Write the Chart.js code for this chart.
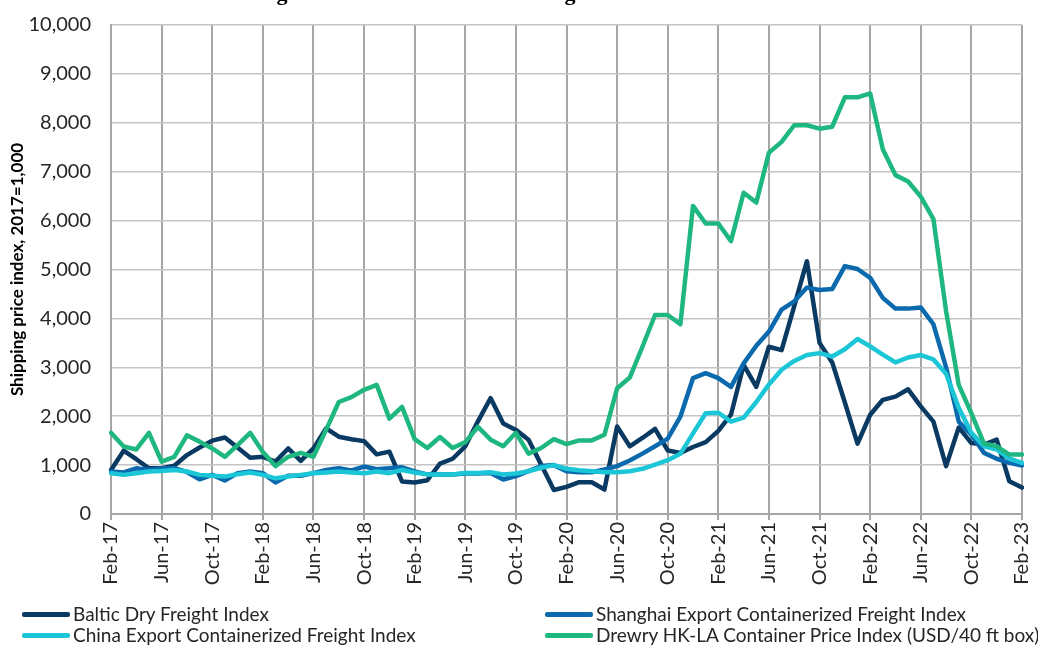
<!DOCTYPE html>
<html>
<head>
<meta charset="utf-8">
<script src="https://cdn.jsdelivr.net/npm/chart.js@4.4.1/dist/chart.umd.min.js"></script>
<style>
  html, body { margin: 0; padding: 0; background: #ffffff; }
  #wrap { position: relative; width: 1038px; height: 646px; overflow: hidden; }
  #c { position: absolute; left: 0; top: 0; }
  .leg { position: absolute; font-family: Lato, "Open Sans", sans-serif; font-size: 19px; color: #262626; white-space: nowrap; line-height: 20px; }
  .leg span.sw { position: absolute; left: 0; top: 8px; width: 48px; height: 5px; border-radius: 2px; }
  .leg span.tx { position: absolute; left: 51px; top: 0; }
</style>
</head>
<body>
<div id="wrap">
  <canvas id="c" width="1038" height="646"></canvas>
  <div id="legend"></div>
</div>
<script>
const months = [
  "Feb-17","Mar-17","Apr-17","May-17","Jun-17","Jul-17","Aug-17","Sep-17","Oct-17","Nov-17","Dec-17","Jan-18",
  "Feb-18","Mar-18","Apr-18","May-18","Jun-18","Jul-18","Aug-18","Sep-18","Oct-18","Nov-18","Dec-18","Jan-19",
  "Feb-19","Mar-19","Apr-19","May-19","Jun-19","Jul-19","Aug-19","Sep-19","Oct-19","Nov-19","Dec-19","Jan-20",
  "Feb-20","Mar-20","Apr-20","May-20","Jun-20","Jul-20","Aug-20","Sep-20","Oct-20","Nov-20","Dec-20","Jan-21",
  "Feb-21","Mar-21","Apr-21","May-21","Jun-21","Jul-21","Aug-21","Sep-21","Oct-21","Nov-21","Dec-21","Jan-22",
  "Feb-22","Mar-22","Apr-22","May-22","Jun-22","Jul-22","Aug-22","Sep-22","Oct-22","Nov-22","Dec-22","Jan-23",
  "Feb-23"
];
const shownTickLabels = ["Feb-17","Jun-17","Oct-17","Feb-18","Jun-18","Oct-18","Feb-19","Jun-19","Oct-19",
  "Feb-20","Jun-20","Oct-20","Feb-21","Jun-21","Oct-21","Feb-22","Jun-22","Oct-22","Feb-23"];
const yTickValues = [0,1000,2000,3000,4000,5000,6000,7000,8000,9000,10000];

const balticDry = [
  900,1295,1120,935,935,985,1205,1360,1500,1565,1360,1150,
  1170,1070,1340,1085,1340,1750,1580,1530,1490,1220,1275,665,
  645,690,1030,1130,1385,1895,2370,1850,1720,1520,1010,490,
  555,650,650,500,1790,1385,1555,1740,1300,1250,1370,1470,
  1700,2030,3050,2600,3420,3350,4250,5170,3500,3100,2280,1440,
  2030,2335,2400,2550,2200,1890,980,1770,1450,1420,1520,670,
  540
];
const shanghaiSCFI = [
  870,850,935,900,935,935,860,710,800,685,835,870,
  835,645,780,780,835,900,935,890,970,915,935,955,
  870,810,810,810,830,830,840,705,775,875,980,1000,
  875,855,855,910,980,1095,1235,1385,1540,1990,2780,2880,
  2780,2600,3080,3440,3730,4180,4350,4630,4580,4600,5070,5010,
  4830,4420,4200,4200,4225,3880,3000,1890,1620,1250,1130,1045,
  990
];
const chinaCCFI = [
  835,800,835,870,880,900,870,800,780,765,815,850,
  800,730,765,800,835,850,870,850,835,870,835,900,
  850,810,810,810,840,840,855,810,830,875,945,1000,
  925,895,875,855,855,875,925,1010,1100,1230,1650,2060,
  2070,1890,1970,2290,2650,2950,3130,3250,3290,3220,3370,3580,
  3430,3260,3100,3200,3250,3160,2870,2170,1660,1385,1320,1130,
  1045
];
const drewryHKLA = [
  1660,1380,1320,1660,1070,1170,1610,1480,1340,1170,1410,1660,
  1270,980,1170,1250,1170,1720,2290,2390,2540,2640,1950,2190,
  1530,1350,1575,1350,1470,1780,1520,1385,1660,1235,1350,1530,
  1430,1505,1505,1620,2570,2790,3420,4070,4070,3880,6300,5940,
  5940,5580,6570,6370,7390,7610,7950,7950,7880,7920,8520,8520,
  8600,7460,6930,6800,6490,6030,4150,2640,2060,1440,1385,1215,
  1215
];

const seriesNames = [
  "Baltic Dry Freight Index",
  "Shanghai Export Containerized Freight Index",
  "China Export Containerized Freight Index",
  "Drewry HK-LA Container Price Index (USD/40 ft box)"
];
const seriesColors = ["#0a3a62", "#0b6aad", "#1bc6d6", "#1fb780"];
const yAxisTitle = "Shipping price index, 2017=1,000";
const chartTitle = "Figure 3.4: Container-based Freight Indices";

const FONT = 'Lato, "Open Sans", sans-serif';

const titlePlugin = {
  id: 'clippedTitle',
  afterDraw(chart) {
    const ctx = chart.ctx;
    ctx.save();
    ctx.font = 'bold 22px "Liberation Serif", "DejaVu Serif", serif';
    ctx.fillStyle = '#000000';
    ctx.textAlign = 'left';
    ctx.textBaseline = 'alphabetic';
    ctx.fillText(chartTitle, 257, -0.5);
    ctx.restore();
  }
};

const isShown = (label) => shownTickLabels.includes(label);

const ctx = document.getElementById('c').getContext('2d');
new Chart(ctx, {
  type: 'line',
  data: {
    labels: months,
    datasets: [
      { label: seriesNames[0], data: balticDry, borderColor: seriesColors[0], order: 4 },
      { label: seriesNames[1], data: shanghaiSCFI, borderColor: seriesColors[1], order: 3 },
      { label: seriesNames[2], data: chinaCCFI, borderColor: seriesColors[2], order: 2 },
      { label: seriesNames[3], data: drewryHKLA, borderColor: seriesColors[3], order: 1 }
    ].map(d => Object.assign(d, {
      borderWidth: 4.5, pointRadius: 0, pointHoverRadius: 0, tension: 0, fill: false,
      borderJoinStyle: 'round', borderCapStyle: 'round'
    }))
  },
  options: {
    responsive: false,
    animation: false,
    devicePixelRatio: 1,
    layout: { padding: { top: 25, right: 16, bottom: 0, left: 0 } },
    plugins: {
      legend: { display: false },
      tooltip: { enabled: false },
      title: { display: false }
    },
    scales: {
      x: {
        type: 'category',
        offset: false,
        grid: {
          color: (c) => (c.tick && isShown(months[c.index])) ? '#a6a6a6' : 'rgba(0,0,0,0)',
          lineWidth: 2,
          drawTicks: true,
          tickLength: 6
        },
        border: { display: true, color: '#a6a6a6', width: 2 },
        ticks: {
          autoSkip: false,
          maxRotation: 90,
          minRotation: 90,
          padding: 2,
          color: '#262626',
          font: { family: FONT, size: 20 },
          callback: function(value, index) {
            const lab = months[index];
            return isShown(lab) ? lab : '';
          }
        },
        afterFit: (scale) => {
          scale.height = 132;
          scale.paddingLeft = 0;
          scale.paddingRight = 0;
        }
      },
      y: {
        min: 0,
        max: 10000,
        afterBuildTicks: (scale) => { scale.ticks = yTickValues.map(v => ({ value: v })); },
        grid: { color: '#c4c4c4', lineWidth: 1.5, drawTicks: false },
        border: { display: true, color: '#a6a6a6', width: 2 },
        ticks: {
          padding: 20,
          color: '#262626',
          font: { family: FONT, size: 20 },
          callback: (v) => v.toLocaleString('en-US')
        },
        title: {
          display: true,
          text: yAxisTitle,
          color: '#000000',
          font: { family: FONT, size: 17, weight: 'bold' },
          padding: { top: 7, bottom: 0 }
        },
        afterFit: (scale) => {
          scale.width = 111;
          scale.paddingTop = 0;
          scale.paddingBottom = 0;
        }
      }
    }
  },
  plugins: [titlePlugin]
});

// HTML legend, two columns
const legendPos = [
  { left: 22, top: 604 },
  { left: 545, top: 604 },
  { left: 22, top: 625 },
  { left: 545, top: 625 }
];
const legendEl = document.getElementById('legend');
seriesNames.forEach((name, i) => {
  const d = document.createElement('div');
  d.className = 'leg';
  d.style.left = legendPos[i].left + 'px';
  d.style.top = legendPos[i].top + 'px';
  d.style.width = '480px';
  d.style.height = '20px';
  const sw = document.createElement('span');
  sw.className = 'sw';
  sw.style.background = seriesColors[i];
  const tx = document.createElement('span');
  tx.className = 'tx';
  tx.textContent = name;
  d.appendChild(sw);
  d.appendChild(tx);
  legendEl.appendChild(d);
});
</script>
</body>
</html>
